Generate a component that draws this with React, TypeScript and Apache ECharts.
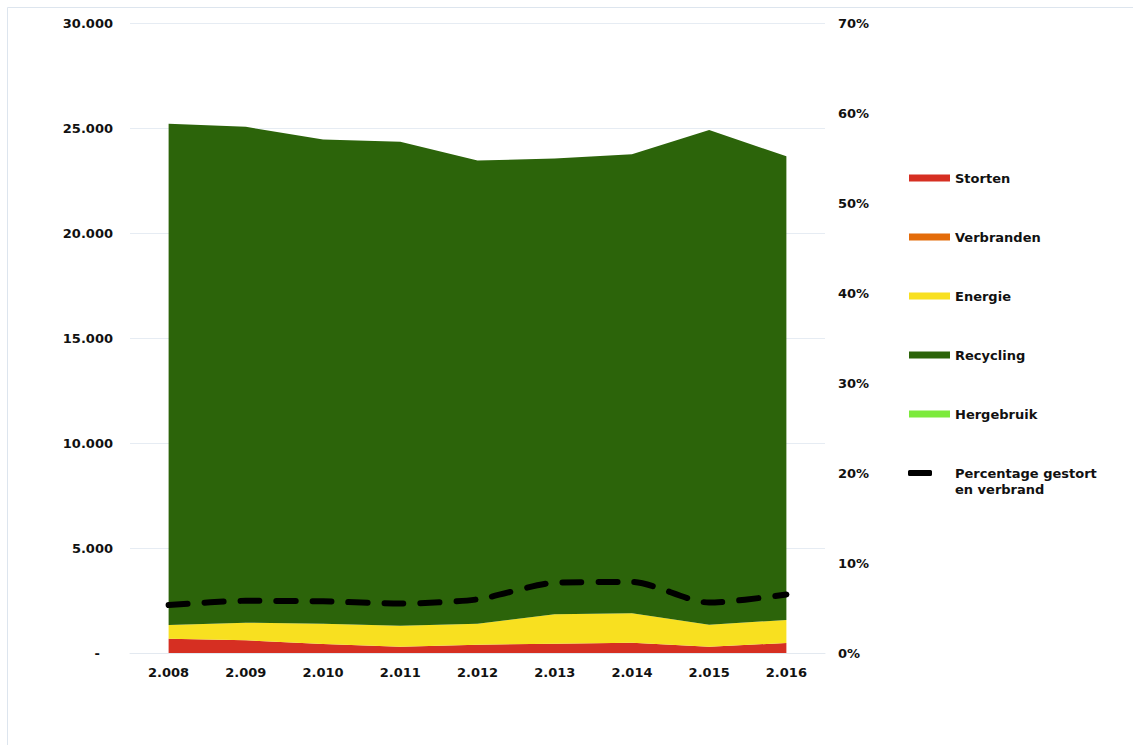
import React, { useEffect, useRef } from "react";
import * as echarts from "echarts";

const years = ["2.008", "2.009", "2.010", "2.011", "2.012", "2.013", "2.014", "2.015", "2.016"];
const storten = [680, 605, 430, 300, 395, 440, 490, 300, 475];
const verbranden = [0, 0, 0, 0, 0, 0, 0, 0, 0];
const energie = [650, 840, 965, 1000, 1000, 1400, 1400, 1050, 1100];
const recycling = [23870, 23610, 23055, 23050, 22055, 21710, 21860, 23550, 22080];
const hergebruik = [0, 0, 0, 0, 0, 0, 0, 0, 0];
const percentage = [0.0533, 0.058, 0.0574, 0.055, 0.0596, 0.078, 0.079, 0.056, 0.065];

const FONT = "DejaVu Sans";

function fmtThousands(v: number): string {
  if (v === 0) return "{dash|-}";
  const s = String(Math.round(v));
  return s.replace(/\B(?=(\d{3})+(?!\d))/g, ".");
}

export default function App() {
  const ref = useRef<HTMLDivElement>(null);
  useEffect(() => {
    if (!ref.current) return;
    const chart = echarts.init(ref.current, undefined, { renderer: "svg" });
    const areaSeries = (name: string, data: number[], color: string) => ({
      name,
      type: "line",
      stack: "total",
      data,
      symbol: "none",
      showSymbol: false,
      lineStyle: { width: 0, color },
      itemStyle: { color },
      areaStyle: { color, opacity: 1 },
    });
    const labelStyle = { fontFamily: FONT, fontWeight: "bold", fontSize: 13, color: "#111" };
    chart.setOption({
      animation: false,
      backgroundColor: "#fff",
      graphic: [
        {
          type: "rect",
          shape: { x: 7.5, y: 7.5, width: 1200, height: 800 },
          style: { fill: "none", stroke: "#dde5ee", lineWidth: 1 },
          silent: true,
          z: -10,
        },
      ],
      grid: { left: 130, right: 308, top: 23, bottom: 92, containLabel: false },
      legend: [
        {
          orient: "vertical",
          left: 909,
          top: 170,
          padding: 0,
          itemWidth: 41,
          itemHeight: 7,
          itemGap: 43,
          itemTextGap: 5,
          icon: "rect",
          textStyle: { ...labelStyle, lineHeight: 16 },
          data: ["Storten", "Verbranden", "Energie", "Recycling", "Hergebruik"],
          selectedMode: false,
        },
        {
          orient: "vertical",
          left: 908,
          top: 449,
          padding: 0,
          itemWidth: 24,
          itemHeight: 6,
          itemGap: 10,
          itemTextGap: 5,
          icon: "roundRect",
          formatter: (name: string) => "\n" + name,
          textStyle: { ...labelStyle, lineHeight: 16, padding: [0, 0, 0, 18] },
          data: [{ name: "Percentage gestort\nen verbrand", itemStyle: { color: "#000" } }],
          selectedMode: false,
        },
      ],
      xAxis: {
        type: "category",
        data: years,
        boundaryGap: true,
        axisLine: { show: true, lineStyle: { color: "#e3e9f0", width: 1 } },
        axisTick: { show: false },
        axisLabel: { ...labelStyle, margin: 13 },
      },
      yAxis: [
        {
          type: "value",
          min: 0,
          max: 30000,
          interval: 5000,
          axisLine: { show: false },
          axisTick: { show: false },
          splitLine: { lineStyle: { color: "#e6ecf3", width: 1 } },
          axisLabel: {
            ...labelStyle,
            margin: 17,
            formatter: fmtThousands,
            rich: { dash: { ...labelStyle, padding: [0, 13, 0, 0] } },
          },
        },
        {
          type: "value",
          min: 0,
          max: 0.7,
          interval: 0.1,
          position: "right",
          axisLine: { show: false },
          axisTick: { show: false },
          splitLine: { show: false },
          axisLabel: {
            ...labelStyle,
            margin: 13,
            formatter: (v: number) => Math.round(v * 100) + "%",
          },
        },
      ],
      series: [
        areaSeries("Storten", storten, "#d62f22"),
        areaSeries("Verbranden", verbranden, "#e46c0a"),
        areaSeries("Energie", energie, "#f8e020"),
        areaSeries("Recycling", recycling, "#2c640a"),
        areaSeries("Hergebruik", hergebruik, "#7cea3c"),
        {
          name: "Percentage gestort\nen verbrand",
          type: "line",
          yAxisIndex: 1,
          data: percentage,
          symbol: "none",
          showSymbol: false,
          smooth: 0.25,
          z: 10,
          itemStyle: { color: "#000" },
          lineStyle: { color: "#000", width: 6, type: [19, 17], cap: "round" },
        },
      ],
    });
    return () => chart.dispose();
  }, []);
  return (
    <div
      ref={ref}
      style={{ position: "absolute", left: 0, top: 0, width: 1133, height: 745 }}
    />
  );
}
